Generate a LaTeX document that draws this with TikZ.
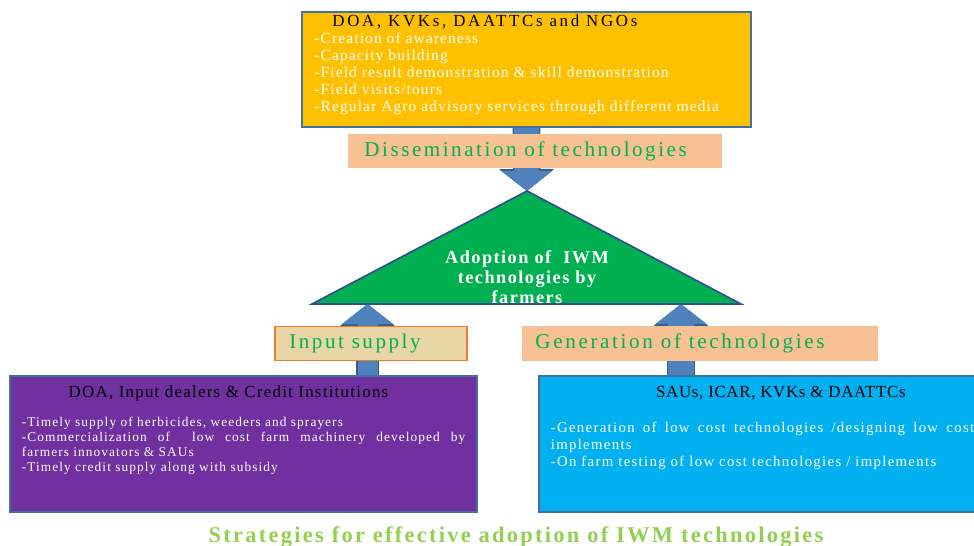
\documentclass[tikz,border=0pt]{standalone}
\usepackage{fontspec}
\setmainfont{Liberation Serif}
\usetikzlibrary{arrows.meta,positioning,backgrounds}
\definecolor{boxline}{HTML}{41719C}
\definecolor{darkline}{HTML}{2F528F}
\definecolor{ambre}{HTML}{FFC000}
\definecolor{peach}{HTML}{F8C193}
\definecolor{papyrus}{HTML}{E9D6A6}
\definecolor{tagborder}{HTML}{ED7D31}
\definecolor{leafgreen}{HTML}{00B050}
\definecolor{lightgreen}{HTML}{92D050}
\definecolor{violet}{HTML}{7030A0}
\definecolor{skyblue}{HTML}{00B0F0}
\definecolor{arrowfill}{HTML}{4F81BD}
\definecolor{arrowline}{HTML}{385D8A}
% fonts
\newcommand{\spaced}[3]{\fontsize{#1}{#2}\selectfont\addfontfeature{LetterSpace=#3}}
\newcommand{\backtojustify}[1]{\leftskip=0pt\rightskip=#1\parfillskip=0pt plus 1fil\relax}
\tikzset{
    %Define style for boxes
    infobox/.style={
           rectangle,
           draw=boxline, line width=1.5pt,
           text=white,
           inner sep=0pt,
           minimum width=11.675cm,
           minimum height=3.4cm},
    tag/.style={
           rectangle,
           fill=peach,
           text=leafgreen,
           inner sep=0pt,
           minimum height=0.86cm,
           font=\spaced{15}{17}{12}},
    % Define block arrow style
    blockarrow/.style={
           draw=arrowfill, line width=#1,
           -{Triangle[length=0.5cm,width=1.25cm]},
           preaction={draw=arrowline, line width=#1+2pt,
                      -{Triangle[length=0.55cm,width=1.35cm]}}}
}
\begin{document}
\begin{tikzpicture}[x=0.025cm,y=-0.025cm]
\useasboundingbox (0,0) rectangle (974,546);
 %boxes
\node[infobox, fill=ambre, minimum width=11.225cm, minimum height=2.875cm] (dissbox) at (526.5,69.5)
  {\parbox[c][2.75cm][t]{10.6cm}{\raggedright\spaced{11}{12.1}{7.2}
   \hspace*{0.45cm}{\spaced{12}{14}{16}\color{black}DOA, KVKs, DAATTCs and NGOs}\\
   -Creation of awareness\\
   -Capacity building\\
   -Field result demonstration \& skill demonstration\\
   -Field visits/tours\\
   -Regular Agro advisory services through different media}};
\node[tag, minimum width=9.35cm] (disstag) at (535,151)
  {Dissemination of technologies\hspace*{0.47cm}};

\coordinate (apex) at (527,191);
\coordinate (baseL) at (312,304);
\coordinate (baseR) at (741,304);
\draw[draw=darkline, line width=1.2pt, fill=leafgreen] (apex) -- (baseR) -- (baseL) -- cycle;
\node[text=white, align=center, font=\bfseries\spaced{13}{14}{8}] (adopt) at (527,277)
  {Adoption of \ IWM\\ technologies by\\ farmers};

\node[tag, fill=papyrus, draw=tagborder, line width=1pt, minimum width=4.8cm] (inputtag) at (371,343.5)
  {Input supply\hspace*{0.8cm}};
\node[tag, minimum width=8.9cm, font=\spaced{15}{17}{12.5}] (gentag) at (700,343.5)
  {Generation of technologies\hspace*{1cm}};

\node[infobox, fill=violet] (inputbox) at (243.5,444)
  {\parbox[c][2.9cm][t]{11.08cm}{\centering{\spaced{12}{14}{7.5}\color{black}DOA, Input dealers \& Credit Institutions}\hspace*{0.75cm}\par
   \vspace{0.35cm}\spaced{9.5}{10.7}{8}\backtojustify{0pt}
   -Timely supply of herbicides, weeders and sprayers\par
   -Commercialization of \ low cost farm machinery developed by\linebreak farmers innovators \& SAUs\par
   -Timely credit supply along with subsidy}};
\node[infobox, fill=skyblue] (genbox) at (772.5,444)
  {\parbox[c][2.9cm][t]{11.08cm}{\centering\hspace*{0.42cm}{\spaced{12}{14}{4}\color{black}SAUs, ICAR, KVKs \& DAATTCs}\par
   \vspace{0.45cm}\spaced{10.5}{12.1}{9}\backtojustify{0.5cm}
   -Generation of low cost technologies /designing low cost\linebreak implements\par
   -On farm testing of low cost technologies / implements}};

\node[text=lightgreen, font=\bfseries\spaced{16}{18}{10}] (caption) at (516,537)
  {Strategies for effective adoption of IWM technologies};

\coordinate (intip) at (367.5,304);
\coordinate (gentip) at (681,304);
 %arrows
\begin{pgfonlayer}{background}
\draw[blockarrow=0.62cm] (dissbox.south) -- (apex);
\draw[blockarrow=0.5cm] (intip |- inputbox.north) -- (intip);
\draw[blockarrow=0.65cm] (gentip |- genbox.north) -- (gentip);
\end{pgfonlayer}
\end{tikzpicture}
\end{document}
